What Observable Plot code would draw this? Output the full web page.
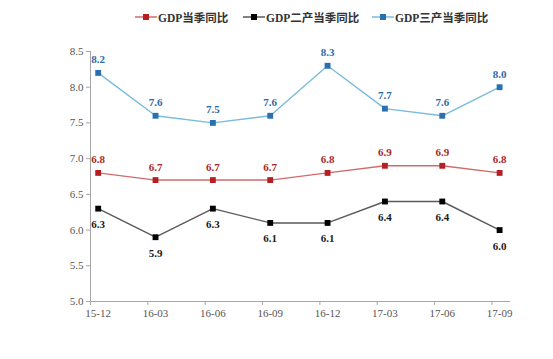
<!DOCTYPE html>
<html>
<head>
<meta charset="utf-8">
<script src="https://cdn.jsdelivr.net/npm/d3@7"></script>
<script src="https://cdn.jsdelivr.net/npm/@observablehq/plot@0.6"></script>
<style>
  body { margin: 0; background: #fff; width: 553px; height: 359px; overflow: hidden; }
  #legend { position: relative; height: 30px; font-family: "Liberation Serif", "Noto Sans CJK SC", serif; font-size: 11.5px; font-weight: bold; color: #333; }
  .item { position: absolute; top: 9px; display: flex; align-items: center; white-space: nowrap; }
  .item svg { margin-right: 1px; }
</style>
</head>
<body>
<div id="legend"></div>
<div id="chart"></div>
<script>
const dates = ["15-12", "16-03", "16-06", "16-09", "16-12", "17-03", "17-06", "17-09"];
const seriesNames = ["GDP当季同比", "GDP二产当季同比", "GDP三产当季同比"];
const gdp = [6.8, 6.7, 6.7, 6.7, 6.8, 6.9, 6.9, 6.8];
const secondary = [6.3, 5.9, 6.3, 6.1, 6.1, 6.4, 6.4, 6.0];
const tertiary = [8.2, 7.6, 7.5, 7.6, 8.3, 7.7, 7.6, 8.0];
const yTicks = [5.0, 5.5, 6.0, 6.5, 7.0, 7.5, 8.0, 8.5];

const styles = {
  "GDP当季同比": {line: "#d26a6a", mark: "#b51f24", label: "#a8282b", dy: -13},
  "GDP二产当季同比": {line: "#5a5a5a", mark: "#000000", label: "#1a1a1a", dy: 16},
  "GDP三产当季同比": {line: "#79bcd9", mark: "#2a6fb0", label: "#2c6aa8", dy: -13}
};
const legendLeft = [135, 243, 372];

const valuesBy = [gdp, secondary, tertiary];
const rows = seriesNames.flatMap((s, k) => valuesBy[k].map((v, i) => ({series: s, i, date: dates[i], value: v})));

// legend
const legend = document.getElementById("legend");
seriesNames.forEach((s, k) => {
  const st = styles[s];
  const el = document.createElement("div");
  el.className = "item";
  el.style.left = legendLeft[k] + "px";
  el.innerHTML = `<svg width="22" height="10"><line x1="0" x2="22" y1="5" y2="5" stroke="${st.line}" stroke-width="1.5"/><rect x="8" y="2" width="6" height="6" fill="${st.mark}"/></svg><span>${s}</span>`;
  legend.appendChild(el);
});

const x0 = -0.134, x1 = 7.19;
const chart = Plot.plot({
  width: 553,
  height: 329,
  marginLeft: 90,
  marginRight: 43,
  marginTop: 21,
  marginBottom: 58,
  style: {fontFamily: "'Liberation Serif', serif", fontSize: "11px", background: "#fff"},
  x: {type: "linear", domain: [x0, x1], axis: null},
  y: {domain: [5, 8.5], axis: null},
  marks: [
    Plot.ruleY([5], {x1: x0, x2: x1, stroke: "#a6a6a6"}),
    Plot.ruleX([x0], {y1: 5, y2: 8.5, stroke: "#a6a6a6"}),
    Plot.axisY({ticks: yTicks, tickFormat: d3.format(".1f"), tickSize: 4, tickPadding: 3, stroke: "#a6a6a6", fill: "#555", fontSize: 11, label: null}),
    Plot.ruleX(dates.map((d, i) => i + x0), {x: d => d, y1: 5, y2: 4.945, stroke: "#a6a6a6"}),
    Plot.axisX({ticks: d3.range(dates.length), tickFormat: i => dates[i], tickSize: 0, tickPadding: 8, fill: "#555", fontSize: 11, label: null}),
    Plot.line(rows, {x: "i", y: "value", z: "series", stroke: d => styles[d.series].line, strokeWidth: 1.4}),
    Plot.dot(rows, {x: "i", y: "value", symbol: "square", r: 3.3, fill: d => styles[d.series].mark, stroke: "none"}),
    ...seriesNames.map(s => Plot.text(rows.filter(d => d.series === s), {
      x: "i", y: "value", text: d => d3.format(".1f")(d.value), dy: styles[s].dy,
      fill: styles[s].label, fontWeight: "bold", fontSize: 11
    }))
  ]
});
document.getElementById("chart").appendChild(chart);
</script>
</body>
</html>
